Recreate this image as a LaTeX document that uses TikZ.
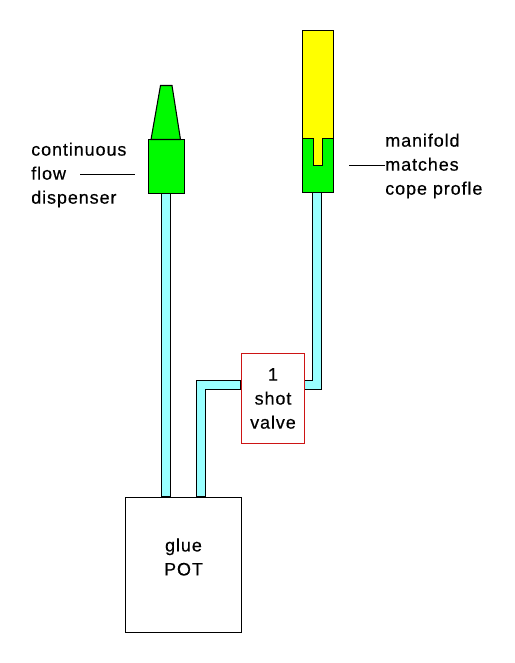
\documentclass[tikz,border=0pt]{standalone}
\usepackage{fontspec}
\usepackage{xcolor}
\setmainfont[LetterSpace=5,FakeBold=0.4]{Liberation Sans}
\definecolor{TubeCyan}{RGB}{153,255,255}
\definecolor{PartGreen}{RGB}{0,250,0}
\definecolor{PartYellow}{RGB}{255,255,0}
\definecolor{ValveRed}{RGB}{205,20,20}
\begin{document}
\begin{tikzpicture}[
  x=0.75pt, y=-0.75pt,
  part/.style={draw=black, line width=0.8pt},
  tube/.style={part, fill=TubeCyan},
  label/.style={align=left, anchor=west, inner sep=0pt, font=\fontsize{13.5}{18}\selectfont},
  boxlabel/.style={align=center, inner sep=0pt, font=\fontsize{13.5}{18}\selectfont},
  leader/.style={draw=black, line width=0.75pt}
]
\useasboundingbox (0,0) rectangle (514,663);
% tubes go first, the boxes sit on top
\draw[tube] (161.5,193) rectangle (170.5,497);
\draw[tube] (196.5,497) -- (196.5,380.5) -- (241,380.5) -- (241,389.5) -- (205.5,389.5) -- (205.5,497) -- cycle;
\draw[tube] (312.5,192) -- (321.5,192) -- (321.5,389.5) -- (304,389.5) -- (304,380.5) -- (312.5,380.5) -- cycle;

\node[part, fill=PartGreen, minimum width=27pt, minimum height=40.5pt, inner sep=0pt] (body) at (166.5,166.5) {};
\draw[part, fill=PartGreen] (151,139.5) -- (160.5,85.5) -- (172,85.5) -- (180.5,139.5) -- cycle;

\node[part, fill=PartGreen, minimum width=23.25pt, minimum height=40.5pt, inner sep=0pt] (manifold) at (318,165.5) {};
\draw[part, fill=PartYellow] (302.5,30.5) -- (333.5,30.5) -- (333.5,138.5) -- (322.5,138.5) -- (322.5,165.5) -- (313.5,165.5) -- (313.5,138.5) -- (302.5,138.5) -- cycle;

\node[draw=ValveRed, line width=1.1pt, fill=white, minimum width=47.25pt, minimum height=67.5pt, inner sep=0pt] (valve) at (273.2,398.7) {};
\node[boxlabel] (valvetext) at (273,398.5) {1\\shot\\valve};
\node[part, fill=white, minimum width=87pt, minimum height=101.25pt, inner sep=0pt] (pot) at (183.5,565) {};
\node[boxlabel] (pottext) at (183.5,557) {glue\\POT};

\node[label] (dispenser) at (31,175) {continuous\\flow\\dispenser};
\node[label] (cope) at (385,166) {manifold\\matches\\cope profle};

\coordinate (flowend) at (80,174.5);
\coordinate (bodyend) at (135,174.5);
\coordinate (matchend) at (349,165.5);
\coordinate (copeend) at (385,165.5);
\draw[leader] (flowend) -- (bodyend);
\draw[leader] (matchend) -- (copeend);
\end{tikzpicture}
\end{document}
